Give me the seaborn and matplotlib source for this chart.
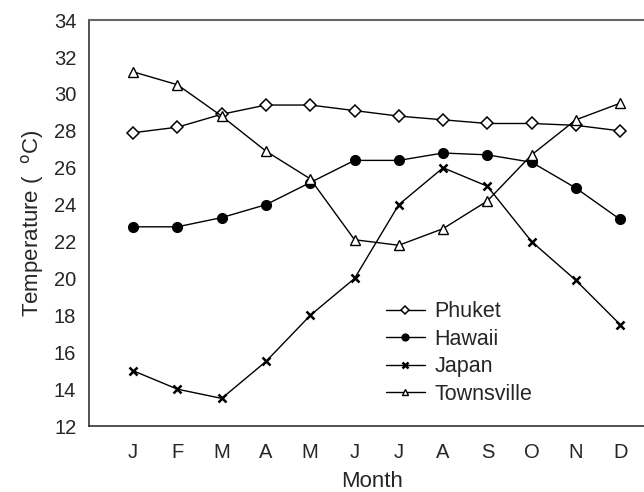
import matplotlib
matplotlib.use("Agg")
import matplotlib.pyplot as plt
import seaborn as sns
import numpy as np

months = ["J", "F", "M", "A", "M", "J", "J", "A", "S", "O", "N", "D"]
phuket = [27.9, 28.2, 28.9, 29.4, 29.4, 29.1, 28.8, 28.6, 28.4, 28.4, 28.3, 28.0]
hawaii = [22.8, 22.8, 23.3, 24.0, 25.2, 26.4, 26.4, 26.8, 26.7, 26.3, 24.9, 23.2]
japan = [15.0, 14.0, 13.5, 15.5, 18.0, 20.0, 24.0, 26.0, 25.0, 22.0, 19.9, 17.5]
townsville = [31.2, 30.5, 28.8, 26.9, 25.4, 22.1, 21.8, 22.7, 24.2, 26.7, 28.6, 29.5]

sns.set_style("white")
plt.rcParams['font.family'] = ['Liberation Sans', 'DejaVu Sans']

fig = plt.figure(figsize=(6.44, 4.92), dpi=100)
ax = fig.add_axes([0.138, 0.134, 0.88, 0.825])

x = np.arange(1, 13)
# series: (values, label, marker, facecolor, size, edge width)
series = [
    (phuket, "Phuket", "D", "white", 6, 1.1),
    (hawaii, "Hawaii", "o", "black", 7, 1.0),
    (japan, "Japan", "x", "black", 6, 1.8),
    (townsville, "Townsville", "^", "white", 6.5, 1.0),
]
for vals, lab, mk, fc, ms, mew in series:
    sns.lineplot(x=x, y=vals, ax=ax, color="black", linewidth=1,
                 marker=mk, markersize=ms, markerfacecolor=fc,
                 markeredgecolor="black", markeredgewidth=mew, label=lab)

ax.set_xlim(0, 12.8)
ax.set_ylim(12, 34)
ax.set_xticks(x)
ax.set_xticklabels(months)
ax.set_yticks(np.arange(12, 35, 2))
ax.tick_params(axis="both", direction="out", length=5, width=1, color="#333333",
               labelsize=14.5, pad=4)
ax.tick_params(axis="x", pad=7)

for s in ["left", "bottom"]:
    ax.spines[s].set_color("#333333")
    ax.spines[s].set_linewidth(1.2)
ax.spines["top"].set_color("#666666")
ax.spines["top"].set_linewidth(1.5)
ax.spines["right"].set_visible(False)

ax.set_xlabel("Month", fontsize=16, labelpad=7)
ax.set_ylabel("Temperature (  $^{\\rm o}$C)", fontsize=16, labelpad=6)

ax.legend(loc="lower left", bbox_to_anchor=(0.49, 0.005), frameon=False,
          fontsize=15.5, handlelength=1.8, handletextpad=0.45, labelspacing=0.3,
          markerscale=0.7)

fig.savefig("out.png", dpi=100)
